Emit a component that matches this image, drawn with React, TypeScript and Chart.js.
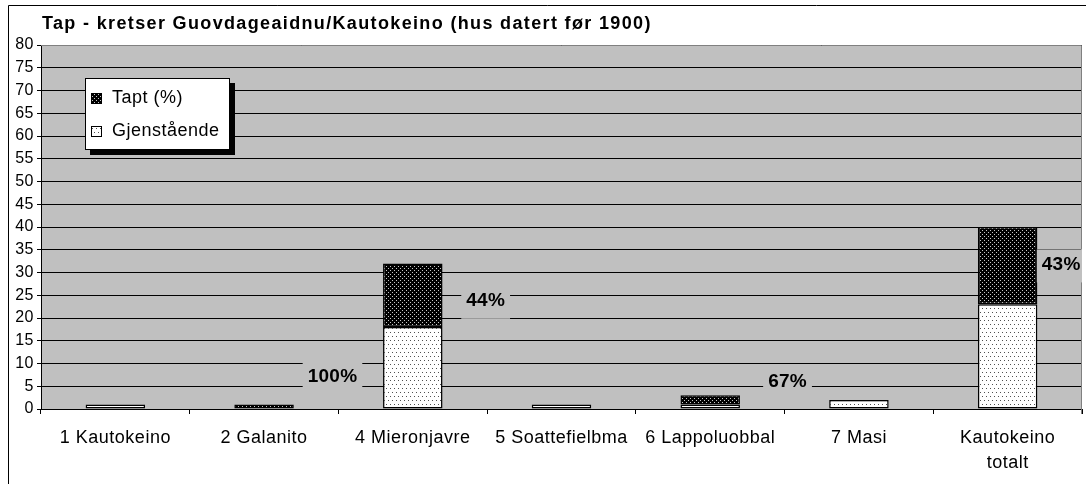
import React, { useEffect, useRef } from 'react';
import { Chart, registerables } from 'chart.js';

Chart.register(...registerables);

// ---- data ----
const titleText = 'Tap - kretser Guovdageaidnu/Kautokeino (hus datert før 1900)';
const categories: (string | string[])[] = [
  '1 Kautokeino',
  '2 Galanito',
  '4 Mieronjavre',
  '5 Soattefielbma',
  '6 Lappoluobbal',
  '7 Masi',
  ['Kautokeino', 'totalt'],
];
const taptLabel = 'Tapt (%)';
const gjenLabel = 'Gjenstående';
const tapt = [0, 1, 14, 0, 2, 0, 17];
const gjenstaende = [1, 0, 18, 1, 1, 2, 23];
const yMin = 0;
const yMax = 80;
const yStep = 5;

const FONT = '"Liberation Sans", Arial, sans-serif';
const SPACING = '0.5px';

// placement of the percentage annotations (category offset, y in axis units)
const pctPlacement: Record<number, { dx: number; y: number }> = {
  1: { dx: 0.46, y: 7.4 },
  2: { dx: 0.49, y: 24 },
  4: { dx: 0.52, y: 6.2 },
  6: { dx: 0.36, y: 32 },
};

function makePattern(bg: string, dot: string, w: number, h: number, dots: [number, number][]) {
  const c = document.createElement('canvas');
  c.width = w;
  c.height = h;
  const g = c.getContext('2d')!;
  g.fillStyle = bg;
  g.fillRect(0, 0, w, h);
  g.fillStyle = dot;
  dots.forEach(([x, y]) => g.fillRect(x, y, 1, 1));
  return g.createPattern(c, 'repeat')!;
}

export default function App() {
  const ref = useRef<HTMLCanvasElement>(null);

  useEffect(() => {
    const canvas = ref.current!;
    const dark = makePattern('#000000', '#c8c8c8', 4, 4, [[0, 0], [2, 2]]);
    const light = makePattern('#ffffff', '#505050', 4, 8, [[0, 0], [2, 4]]);

    const excelPlugin = {
      id: 'excelLook',
      beforeLayout(chart: any) {
        chart.ctx.letterSpacing = SPACING;
      },
      beforeDraw(chart: any) {
        const { ctx, chartArea: a, width, height } = chart;
        ctx.save();
        ctx.fillStyle = '#ffffff';
        ctx.fillRect(0, 0, width, height);
        ctx.fillStyle = '#c0c0c0';
        ctx.fillRect(a.left, a.top, a.right - a.left, a.bottom - a.top);
        ctx.strokeStyle = '#000';
        ctx.lineWidth = 1;
        ctx.beginPath();
        ctx.moveTo(8.5, height);
        ctx.lineTo(8.5, 5.5);
        ctx.lineTo(1086, 5.5);
        ctx.stroke();
        ctx.letterSpacing = '1.35px';
        ctx.font = `bold 18px ${FONT}`;
        ctx.fillStyle = '#000';
        ctx.textAlign = 'left';
        ctx.textBaseline = 'alphabetic';
        ctx.fillText(titleText, 42, 29);
        ctx.restore();
        ctx.letterSpacing = SPACING;
      },
      beforeDatasetsDraw(chart: any) {
        const { ctx, chartArea: a } = chart;
        ctx.save();
        ctx.strokeStyle = '#808080';
        ctx.lineWidth = 1;
        ctx.beginPath();
        ctx.moveTo(a.left, a.top + 0.5);
        ctx.lineTo(a.right - 0.5, a.top + 0.5);
        ctx.lineTo(a.right - 0.5, a.bottom + 5);
        ctx.stroke();
        ctx.restore();
      },
      afterDatasetsDraw(chart: any) {
        const { ctx, chartArea: a } = chart;
        const xs = chart.scales.x;
        const ys = chart.scales.y;
        const catW = (a.right - a.left) / categories.length;
        ctx.save();
        ctx.beginPath();
        ctx.rect(a.left, a.top, a.right - a.left, a.bottom - a.top);
        ctx.clip();
        ctx.letterSpacing = '0.25px';
        ctx.font = `bold 19px ${FONT}`;
        ctx.textAlign = 'center';
        ctx.textBaseline = 'middle';
        tapt.forEach((t, i) => {
          const p = pctPlacement[i];
          if (!t || !p) return;
          const total = t + gjenstaende[i];
          const txt = Math.round((t / total) * 100) + '%';
          const x = xs.getPixelForValue(i) + p.dx * catW;
          const y = ys.getPixelForValue(p.y);
          const w = ctx.measureText(txt).width;
          ctx.fillStyle = '#c0c0c0';
          ctx.fillRect(x - w / 2 - 5, y - 14, w + 10, 33);
          ctx.fillStyle = '#000';
          ctx.fillText(txt, x, y + 1);
        });
        ctx.restore();

        // legend
        ctx.save();
        const lx = 85, ly = 78, lw = 144, lh = 71;
        ctx.fillStyle = '#000';
        ctx.fillRect(lx + 5, ly + 5, lw + 1, lh + 1);
        ctx.fillStyle = '#fff';
        ctx.fillRect(lx, ly, lw, lh);
        ctx.strokeStyle = '#000';
        ctx.lineWidth = 1;
        ctx.strokeRect(lx + 0.5, ly + 0.5, lw, lh);
        const items = [
          { label: taptLabel, fill: dark, cy: 98 },
          { label: gjenLabel, fill: light, cy: 131 },
        ];
        ctx.font = `18px ${FONT}`;
        ctx.letterSpacing = SPACING;
        ctx.textAlign = 'left';
        ctx.textBaseline = 'middle';
        items.forEach((it) => {
          ctx.fillStyle = it.fill;
          ctx.fillRect(91, it.cy - 5, 11, 11);
          ctx.strokeRect(91.5, it.cy - 4.5, 10, 10);
          ctx.fillStyle = '#000';
          ctx.fillText(it.label, 112, it.cy);
        });
        ctx.restore();
      },
    };

    const chart = new Chart(canvas, {
      type: 'bar',
      data: {
        labels: categories,
        datasets: [
          {
            label: gjenLabel,
            data: gjenstaende.map((v) => (v ? v : null)),
            backgroundColor: light,
            borderColor: '#000',
            borderWidth: 1.5,
            borderSkipped: false,
            stack: 's',
          },
          {
            label: taptLabel,
            data: tapt.map((v) => (v ? v : null)),
            backgroundColor: dark,
            borderColor: '#000',
            borderWidth: 1.5,
            borderSkipped: false,
            stack: 's',
          },
        ],
      },
      options: {
        animation: false,
        responsive: false,
        devicePixelRatio: 1,
        events: [],
        layout: { padding: { top: 45, right: 5, left: 0, bottom: 0 } },
        datasets: { bar: { categoryPercentage: 1, barPercentage: 0.4 } },
        plugins: {
          legend: { display: false },
          title: { display: false },
          tooltip: { enabled: false },
        },
        scales: {
          x: {
            stacked: true,
            grid: { offset: true, drawOnChartArea: false, drawTicks: true, tickLength: 5, color: '#000' },
            border: { color: '#000' },
            ticks: {
              color: '#000',
              font: { family: FONT, size: 18, lineHeight: 1.4 },
              padding: 11,
              maxRotation: 0,
              autoSkip: false,
            },
            afterFit: (s: any) => {
              s.height = 75;
            },
          },
          y: {
            stacked: true,
            min: yMin,
            max: yMax,
            ticks: { stepSize: yStep, color: '#000', font: { family: FONT, size: 16 }, padding: 3 },
            grid: { color: '#000', tickLength: 4 },
            border: { color: '#000' },
            afterFit: (s: any) => {
              s.width = 41;
            },
          },
        },
      },
      plugins: [excelPlugin],
    } as any);

    return () => chart.destroy();
  }, []);

  return (
    <div style={{ position: 'absolute', left: 0, top: 0, width: 1087, height: 484 }}>
      <canvas ref={ref} width={1087} height={484} style={{ display: 'block' }} />
    </div>
  );
}
